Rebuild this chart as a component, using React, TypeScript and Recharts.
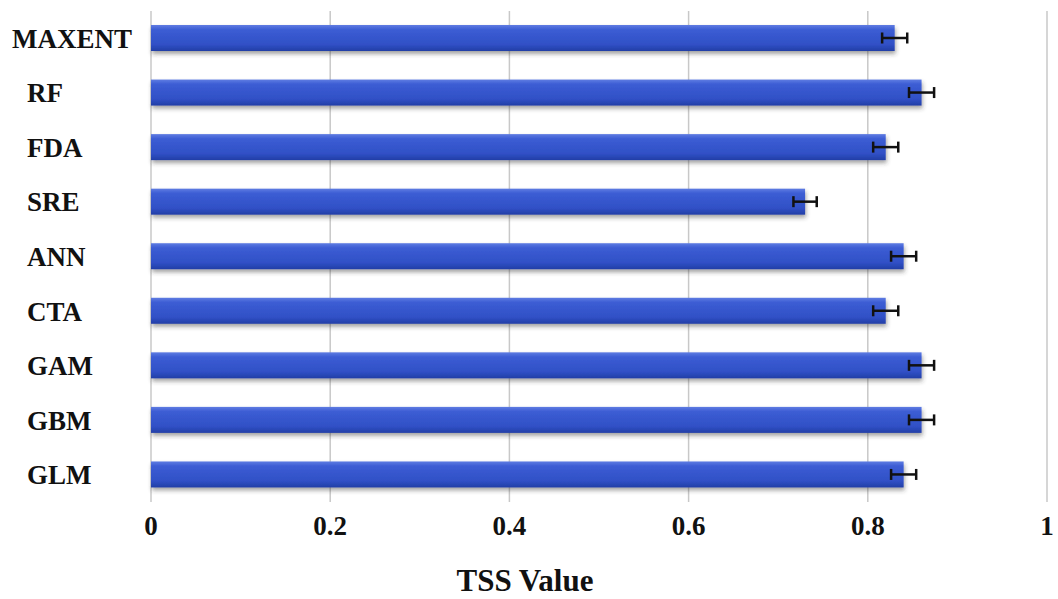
import React from 'react';
import { BarChart, Bar, XAxis, YAxis, CartesianGrid, ErrorBar } from 'recharts';

const models = ['MAXENT', 'RF', 'FDA', 'SRE', 'ANN', 'CTA', 'GAM', 'GBM', 'GLM'];
const tssValues = [0.83, 0.86, 0.82, 0.73, 0.84, 0.82, 0.86, 0.86, 0.84];
const tssErrors = [0.014, 0.014, 0.014, 0.013, 0.014, 0.014, 0.014, 0.014, 0.014];
const xTicks = [0, 0.2, 0.4, 0.6, 0.8, 1];

const FONT = '"Liberation Serif", "Times New Roman", serif';
const INK = '#111111';

const rows = models.map((name, i) => ({ name, value: tssValues[i], err: tssErrors[i] }));

const ModelTick = ({ y, payload }: any) => {
  const label = String(payload.value);
  return (
    <text
      x={label.length > 4 ? 12 : 27}
      y={y}
      dy="0.35em"
      textAnchor="start"
      fontFamily={FONT}
      fontWeight="bold"
      fontSize={27}
      fill={INK}
    >
      {label}
    </text>
  );
};

const ValueTick = ({ x, y, payload }: any) => (
  <text
    x={x}
    y={y}
    dy={25}
    textAnchor="middle"
    fontFamily={FONT}
    fontWeight="bold"
    fontSize={27}
    fill={INK}
  >
    {payload.value}
  </text>
);

const BarShape = ({ x, y, width, height }: any) => (
  <rect x={x} y={y} width={width} height={height} fill="url(#barGrad)" filter="url(#barShadow)" />
);

const AxisTitle = () => (
  <text x={525} y={591} textAnchor="middle" fontFamily={FONT} fontWeight="bold" fontSize={31} fill={INK}>
    TSS Value
  </text>
);

export default function App() {
  return (
    <div style={{ position: 'absolute', left: 0, top: 0, width: 1058, height: 599, background: '#fff' }}>
      <BarChart
        width={1058}
        height={599}
        layout="vertical"
        data={rows}
        margin={{ top: 11, right: 11, bottom: 0, left: 0 }}
      >
        <defs>
          <linearGradient id="barGrad" x1="0" y1="0" x2="0" y2="1">
            <stop offset="0%" stopColor="#5f7ce2" />
            <stop offset="18%" stopColor="#3c5dd4" />
            <stop offset="75%" stopColor="#3050c6" />
            <stop offset="100%" stopColor="#223ea6" />
          </linearGradient>
          <filter id="barShadow" x="-5%" y="-30%" width="110%" height="170%">
            <feDropShadow dx="1" dy="3" stdDeviation="2" floodColor="#333" floodOpacity="0.45" />
          </filter>
        </defs>
        <CartesianGrid horizontal={false} vertical stroke="#c8c8c8" strokeWidth={1.5} />
        <XAxis
          type="number"
          domain={[0, 1]}
          ticks={xTicks}
          axisLine={false}
          tickLine={false}
          height={97}
          tick={<ValueTick />}
          label={<AxisTitle />}
        />
        <YAxis
          type="category"
          dataKey="name"
          width={151}
          axisLine={false}
          tickLine={false}
          interval={0}
          tick={<ModelTick />}
        />
        <Bar dataKey="value" barSize={26} shape={<BarShape />} isAnimationActive={false}>
          <ErrorBar dataKey="err" direction="x" width={5.5} stroke="#111" strokeWidth={2.5} />
        </Bar>
      </BarChart>
    </div>
  );
}
